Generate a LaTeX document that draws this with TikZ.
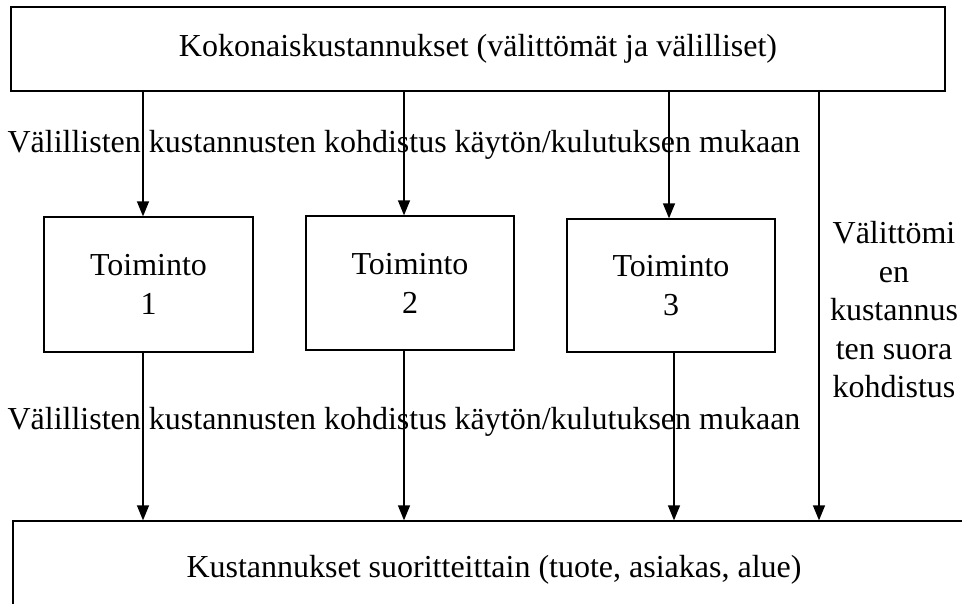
\documentclass[tikz,border=0pt]{standalone}
\usepackage{fontspec}
\setmainfont{Liberation Serif}
\usetikzlibrary{arrows.meta}
\begin{document}
\begin{tikzpicture}[x=1pt,y=-1pt,
  box/.style={draw=black,line width=1.3pt,rectangle,inner sep=0pt,align=center,
    font=\fontsize{32}{39}\selectfont},
  lbl/.style={inner sep=0pt,align=center,font=\fontsize{32}{38.5}\selectfont},
  arr/.style={line width=1.3pt,-{Triangle[length=15pt,width=12pt]}}]
\useasboundingbox (0,0) rectangle (962,603);
\clip (0,0) rectangle (962,603);
% boxes
\node[box,minimum width=934pt,minimum height=84pt] (top) at (478,49)
  {Kokonaiskustannukset (välittömät ja välilliset)};
\node[box,minimum width=209pt,minimum height=135pt] (t1) at (148.5,284.5) {Toiminto\\1};
\node[box,minimum width=208pt,minimum height=134pt] (t2) at (410,283) {Toiminto\\2};
\node[box,minimum width=208pt,minimum height=133pt] (t3) at (671,285.5) {Toiminto\\3};
\node[box,minimum width=962pt,minimum height=98pt] (bot) at (494,570)
  {Kustannukset suoritteittain (tuote, asiakas, alue)};
% labels
\node[lbl] (l1) at (404,145) {Välillisten kustannusten kohdistus käytön/kulutuksen mukaan};
\node[lbl] (l2) at (404,422) {Välillisten kustannusten kohdistus käytön/kulutuksen mukaan};
\node[lbl] (l3) at (894,310) {Välittömi\\en\\kustannus\\ten suora\\kohdistus};
% connectors
\coordinate (a1) at ([xshift=-5.5pt]t1.north);
\coordinate (a2) at ([xshift=-6pt]t2.north);
\coordinate (a3) at ([xshift=-2pt]t3.north);
\draw[arr] (top.south -| a1) -- (a1);
\draw[arr] (top.south -| a2) -- (a2);
\draw[arr] (top.south -| a3) -- (a3);
\coordinate (b1) at ([xshift=-5.5pt]t1.south);
\coordinate (b2) at ([xshift=-6pt]t2.south);
\coordinate (b3) at ([xshift=3pt]t3.south);
\draw[arr] (b1) -- (bot.north -| b1);
\draw[arr] (b2) -- (bot.north -| b2);
\draw[arr] (b3) -- (bot.north -| b3);
\coordinate (r) at (819,0);
\draw[arr] (top.south -| r) -- (bot.north -| r);
\end{tikzpicture}
\end{document}
